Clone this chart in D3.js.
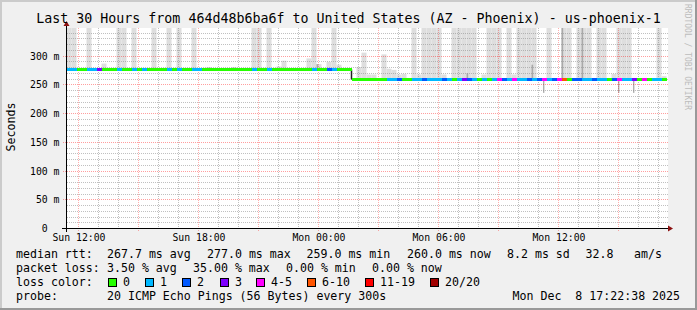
<!DOCTYPE html>
<html lang="en">
<head>
<meta charset="UTF-8">
<title>SmokePing us-phoenix-1</title>
<script src="https://d3js.org/d3.v7.min.js"></script>
<style>
  * { margin: 0; padding: 0; }
  body { background: #fff; }
  svg { display: block; font-family: 'DejaVu Sans Mono', monospace; }
  text { white-space: pre; }
</style>
</head>
<body>
<script>
// 30 hours, 120 slots of 15 minutes, ending Mon Dec 8 17:22:38
const startTime = Date.UTC(2025, 11, 7, 11, 22, 38)
const endTime = Date.UTC(2025, 11, 8, 17, 22, 38)
const slotMinutes = 15
const pingStepSeconds = 300

// median rtt per slot (ms)
const median = [
  277,277,276,276,277,277,277,276,276,276,
  277,276,276,277,276,277,276,276,276,276,
  277,276,277,276,276,277,277,276,276,276,
  276,276,276,276,276,276,276,277,276,276,
  277,276,276,276,276,276,276,276,276,277,
  276,276,277,277,276,276,276,260,260,260,
  260,260,260,260,260,260,260,260,260,260,
  260,260,260,260,260,260,260,260,260,260,
  260,260,260,260,260,260,260,260,260,260,
  260,260,260,260,260,259,260,260,260,260,
  260,260,260,260,260,260,260,260,260,260,
  260,260,260,259,260,260,260,260,260,260
]
// lost pings out of 20 per slot
const loss = [
  1,1,0,0,1,1,3,0,0,0,
  1,0,0,1,0,1,0,0,0,0,
  1,0,1,0,0,1,1,0,0,0,
  0,0,0,0,0,0,0,1,0,0,
  1,0,0,0,0,0,0,0,0,1,
  0,0,2,1,0,0,0,0,0,0,
  0,0,0,0,1,1,2,0,0,1,
  1,2,1,1,1,2,1,0,1,3,
  2,1,0,1,0,1,5,2,1,4,
  1,1,2,1,2,4,1,2,4,7,
  0,2,2,1,1,2,1,1,0,2,
  4,1,1,3,0,4,0,1,1,0
]
// highest ping per slot (ms), 0 = no smoke above the median
const smokeMax = [
  400,400,0,0,400,0,0,287,0,0,
  400,400,0,400,0,0,0,400,0,0,
  400,0,400,0,0,400,0,0,281,0,
  0,0,0,281,0,0,0,400,400,0,
  400,0,282,292,0,0,0,0,296,400,
  286,0,290,400,285,0,0,0,281,306,
  268,268,0,303,278,276,268,269,0,400,
  268,400,400,400,400,268,0,400,400,400,
  400,400,0,268,400,400,400,0,400,268,
  400,400,400,400,0,0,400,0,0,400,
  400,0,400,400,400,0,400,400,0,269,
  400,400,400,0,0,0,0,0,400,265
]
// dense (dark) smoke top per slot (ms), 0 = none
const smokeDark = [
  0,0,0,0,0,0,0,0,0,0,
  0,0,0,0,0,0,0,0,0,0,
  0,0,0,0,0,0,0,0,0,0,
  0,0,0,0,0,0,0,0,0,0,
  0,0,0,0,0,0,0,0,0,0,
  286,0,0,0,0,0,0,0,0,0,
  0,0,0,0,0,0,0,0,0,0,
  0,0,0,0,0,0,0,0,0,0,
  270,0,0,0,0,0,0,0,0,0,
  0,0,0,285,0,0,0,0,0,400,
  0,0,0,400,0,0,0,0,0,0,
  0,0,0,0,0,0,0,0,0,0
]
// lowest ping per slot (ms), 0 = no smoke below the median
const smokeMin = [
  0,0,0,0,0,0,0,0,0,0,
  0,0,0,0,0,0,0,0,0,0,
  0,0,0,0,0,0,0,0,0,0,
  0,0,0,0,0,0,0,0,0,0,
  0,0,0,0,0,0,0,0,0,0,
  0,0,0,0,0,0,0,0,0,0,
  0,0,0,0,0,0,0,0,0,0,
  0,0,0,0,0,0,0,0,0,0,
  0,0,0,0,0,0,0,0,0,0,
  0,0,0,0,0,236,0,0,0,0,
  0,0,0,0,0,0,0,0,0,0,
  236,0,0,236,0,0,0,0,0,0
]

const yTicks = [0, 50, 100, 150, 200, 250, 300]
const lossLabels = ['0', '1', '2', '3', '4-5', '6-10', '11-19', '20/20']
const lossColors = ['#26ff00', '#00b8ff', '#0059ff', '#7e00ff', '#ff00ff', '#ff5500', '#ff0000', '#a10000']
const lossBoxX = [108.5, 145.5, 182.5, 220.5, 256.5, 307.5, 365.5, 430.5]

const title = 'Last 30 Hours from 464d48b6ba6f to United States (AZ - Phoenix) - us-phoenix-1'
const rttRow = [['median rtt:', 16], ['267.7 ms avg', 107], ['277.0 ms max', 207], ['259.0 ms min', 306.5],
                ['260.0 ms now', 407], ['8.2 ms sd', 507], ['32.8', 585.5], ['am/s', 634]]
const lossRow = [['packet loss:', 16], ['3.50 % avg', 107], ['35.00 % max', 193], ['0.00 % min', 286], ['0.00 % now', 372]]
const probeRow = [['probe:', 16], ['20 ICMP Echo Pings (56 Bytes) every 300s', 107], ['Mon Dec  8 17:22:38 2025', 512.5]]

function bucket(n) {
  if (n <= 3) return n
  if (n <= 5) return 4
  if (n <= 10) return 5
  if (n <= 19) return 6
  return 7
}

const width = 697
const height = 310

const x = d3.scaleUtc().domain([startTime, endTime]).range([66.5, 666.5])
const y = d3.scaleLinear().domain([0, 348]).range([228.5, 28.5])
const crisp = (v) => Math.round(v - 0.5) + 0.5
const lineY = (v) => Math.floor(y(v)) + 0.5

const slotStart = (i) => startTime + i * slotMinutes * 60000
const stepW = x(startTime + pingStepSeconds * 1000) - x(startTime)

const svg = d3.select('body').append('svg')
  .attr('width', width)
  .attr('height', height)

// frame
svg.append('rect').attr('width', width).attr('height', height).attr('fill', '#f0f0f0')
svg.append('path').attr('d', `M0,0H${width}V2H2V${height}H0Z`).attr('fill', '#cbcbcb')
svg.append('path').attr('d', `M${width},${height}H0V${height - 2}H${width - 2}V0H${width}Z`).attr('fill', '#999')

// canvas
svg.append('rect')
  .attr('x', 67).attr('y', 28)
  .attr('width', 601).attr('height', 200)
  .attr('fill', '#fff')

svg.append('clipPath').attr('id', 'plot')
  .append('rect').attr('x', 67).attr('y', 28).attr('width', 601).attr('height', 200)

const plot = svg.append('g').attr('clip-path', 'url(#plot)')

// smoke
const idx = d3.range(median.length)
plot.selectAll('rect.smoke')
  .data(idx.filter((i) => smokeMax[i] > median[i]))
  .enter().append('rect')
  .attr('class', 'smoke')
  .attr('x', (i) => x(slotStart(i)))
  .attr('width', (i) => x(slotStart(i + 1)) - x(slotStart(i)))
  .attr('y', (i) => y(smokeMax[i]))
  .attr('height', (i) => y(median[i]) - y(smokeMax[i]))
  .attr('fill', '#dedede')

plot.selectAll('rect.dark')
  .data(idx.filter((i) => smokeDark[i] > 0))
  .enter().append('rect')
  .attr('class', 'dark')
  .attr('x', (i) => x(slotStart(i)))
  .attr('width', stepW)
  .attr('y', (i) => y(smokeDark[i]))
  .attr('height', (i) => y(median[i]) - y(smokeDark[i]))
  .attr('fill', '#a9a9a9')

plot.selectAll('rect.low')
  .data(idx.filter((i) => smokeMin[i] > 0))
  .enter().append('rect')
  .attr('class', 'low')
  .attr('x', (i) => x(slotStart(i)) + stepW)
  .attr('width', stepW * 0.7)
  .attr('y', (i) => y(median[i]))
  .attr('height', (i) => y(smokeMin[i]) - y(median[i]))
  .attr('fill', '#a0a0a0')

// grid
const minorY = d3.range(10, 348, 10).filter((v) => v % 50 !== 0)
const majorY = yTicks.filter((v) => v > 0)
const hours = d3.utcHour.every(1).range(new Date(startTime), new Date(endTime))
const minorX = hours.filter((d) => d.getUTCHours() % 3 !== 0)
const majorX = hours.filter((d) => d.getUTCHours() % 3 === 0)

const grid = svg.append('g').attr('fill', 'none').attr('stroke-dasharray', '1,1')
grid.selectAll('line.hmin').data(minorY).enter().append('line')
  .attr('x1', 67).attr('x2', 668)
  .attr('y1', (v) => crisp(y(v))).attr('y2', (v) => crisp(y(v)))
  .attr('stroke', 'rgba(140,140,140,0.55)')
grid.selectAll('line.vmin').data(minorX).enter().append('line')
  .attr('x1', (d) => crisp(x(d))).attr('x2', (d) => crisp(x(d)))
  .attr('y1', 28).attr('y2', 230)
  .attr('stroke', 'rgba(140,140,140,0.55)')
grid.selectAll('line.hmaj').data(majorY).enter().append('line')
  .attr('x1', 63).attr('x2', 668)
  .attr('y1', (v) => crisp(y(v))).attr('y2', (v) => crisp(y(v)))
  .attr('stroke', 'rgba(255,0,0,0.38)')
grid.selectAll('line.vmaj').data(majorX).enter().append('line')
  .attr('x1', (d) => crisp(x(d))).attr('x2', (d) => crisp(x(d)))
  .attr('y1', 28).attr('y2', 231)
  .attr('stroke', 'rgba(255,0,0,0.32)')

// median line: dark connectors where the median jumps, loss-coloured segments on top
const jumps = idx.filter((i) => i > 0 && lineY(median[i]) !== lineY(median[i - 1]))
svg.selectAll('line.jump')
  .data(jumps)
  .enter().append('line')
  .attr('x1', (i) => crisp(x(slotStart(i))))
  .attr('x2', (i) => crisp(x(slotStart(i))))
  .attr('y1', (i) => lineY(median[i - 1]))
  .attr('y2', (i) => lineY(median[i]))
  .attr('stroke', '#202020')
  .attr('stroke-width', 1.5)

svg.selectAll('line.med')
  .data(idx)
  .enter().append('line')
  .attr('x1', (i) => x(slotStart(i)))
  .attr('x2', (i) => x(slotStart(i + 1)))
  .attr('y1', (i) => lineY(median[i]))
  .attr('y2', (i) => lineY(median[i]))
  .attr('stroke', (i) => lossColors[bucket(loss[i])])
  .attr('stroke-width', 3)
  .attr('shape-rendering', 'crispEdges')

// axes
svg.append('line').attr('x1', 62).attr('x2', 668).attr('y1', 228.5).attr('y2', 228.5).attr('stroke', '#000')
svg.append('line').attr('x1', 66.5).attr('x2', 66.5).attr('y1', 232).attr('y2', 25).attr('stroke', '#000')
svg.append('path').attr('d', 'M668,225.5L673,228.5L668,231.5Z').attr('fill', '#8c1010')
svg.append('path').attr('d', 'M63.5,26L66.5,21L69.5,26Z').attr('fill', '#8c1010')

svg.append('g').selectAll('text').data(yTicks).enter().append('text')
  .attr('x', 59.5)
  .attr('y', (v) => y(v))
  .attr('dy', '0.36em')
  .attr('text-anchor', 'end')
  .attr('font-size', '9.8px')
  .attr('fill', '#000')
  .text((v) => v === 0 ? '0\u00a0\u00a0' : v + ' m')

const fmt = d3.utcFormat('%a %H:%M')
svg.append('g').selectAll('text').data(hours.filter((d) => d.getUTCHours() % 6 === 0)).enter().append('text')
  .attr('x', (d) => x(d))
  .attr('y', 241)
  .attr('text-anchor', 'middle')
  .attr('font-size', '9.8px')
  .text((d) => fmt(d))

svg.append('text')
  .attr('transform', 'translate(14.5,127) rotate(-90)')
  .attr('text-anchor', 'middle')
  .attr('font-size', '11.6px')
  .text('Seconds')

svg.append('text')
  .attr('x', 348.5).attr('y', 23)
  .attr('text-anchor', 'middle')
  .attr('font-size', '13.3px')
  .text(title)

svg.append('text')
  .attr('transform', 'translate(684.5,4) rotate(90)')
  .attr('font-size', '8px')
  .attr('fill', '#bcbcbc')
  .text('RRDTOOL / TOBI OETIKER')

// legend rows
const rows = [[rttRow, 257.5], [lossRow, 271.5], [probeRow, 299.5]]
rows.forEach(([row, by]) => {
  svg.append('g').selectAll('text').data(row).enter().append('text')
    .attr('x', (d) => d[1])
    .attr('y', by)
    .attr('font-size', '11.6px')
    .text((d) => d[0])
})

svg.append('text').attr('x', 16).attr('y', 285.5).attr('font-size', '11.6px').text('loss color:')
const lg = svg.append('g').selectAll('g').data(lossLabels).enter().append('g')
lg.append('rect')
  .attr('x', (d, i) => lossBoxX[i]).attr('y', 278.5)
  .attr('width', 8).attr('height', 8)
  .attr('fill', (d, i) => lossColors[i])
  .attr('stroke', '#000')
lg.append('text')
  .attr('x', (d, i) => lossBoxX[i] + 14.5)
  .attr('y', 285.5)
  .attr('font-size', '11.6px')
  .text((d) => d)
</script>
</body>
</html>
